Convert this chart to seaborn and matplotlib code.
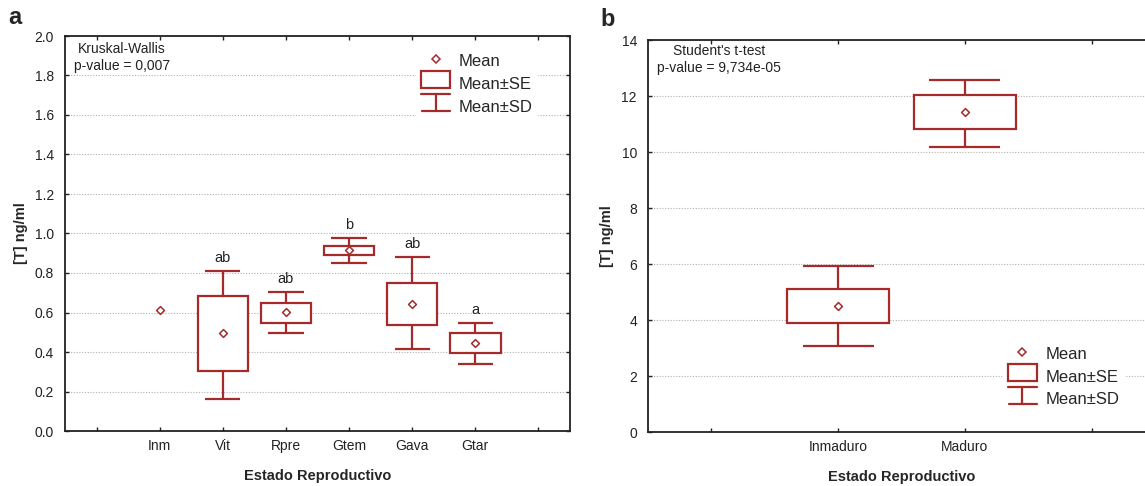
import seaborn as sns
import matplotlib.pyplot as plt
import numpy as np
import pandas as pd
from matplotlib.legend_handler import HandlerBase
from matplotlib.lines import Line2D
from matplotlib.patches import Rectangle

# panel a: estados reproductivos
estados_a = ['Inm', 'Vit', 'Rpre', 'Gtem', 'Gava', 'Gtar']
media_a = [0.615, 0.495, 0.603, 0.917, 0.645, 0.445]
se_lo_a = [np.nan, 0.305, 0.546, 0.893, 0.538, 0.396]
se_hi_a = [np.nan, 0.683, 0.646, 0.935, 0.748, 0.497]
sd_lo_a = [np.nan, 0.162, 0.495, 0.853, 0.413, 0.340]
sd_hi_a = [np.nan, 0.812, 0.705, 0.978, 0.880, 0.547]
letras_a = ['', 'ab', 'ab', 'b', 'ab', 'a']

# panel b
estados_b = ['Inmaduro', 'Maduro']
media_b = [4.50, 11.44]
se_lo_b = [3.88, 10.83]
se_hi_b = [5.12, 12.02]
sd_lo_b = [3.08, 10.19]
sd_hi_b = [5.92, 12.58]

rojo = '#a52a2a'

sns.set_style('ticks')
plt.rcParams['font.family'] = ['Liberation Sans', 'DejaVu Sans']


class HandlerSD(HandlerBase):
    # dibuja el simbolo de bigote (Mean±SD) en la leyenda
    def create_artists(self, legend, orig_handle, xd, yd, w, h, fontsize, trans):
        cx = xd + w / 2
        arriba, abajo = yd + 1.05 * h, yd - 0.1 * h
        l1 = Line2D([xd, xd + w], [arriba, arriba], color=rojo, lw=1.6, transform=trans)
        l2 = Line2D([cx, cx], [arriba, abajo], color=rojo, lw=1.6, transform=trans)
        l3 = Line2D([xd + 0.05 * w, xd + w], [abajo, abajo], color=rojo, lw=1.6, transform=trans)
        return [l1, l2, l3]


class HandlerSE(HandlerBase):
    def create_artists(self, legend, orig_handle, xd, yd, w, h, fontsize, trans):
        r = Rectangle((xd, yd - 0.05 * h), w, 1.1 * h, facecolor='white', edgecolor=rojo, lw=1.6, transform=trans)
        return [r]


def panel(ax, cats, media, se_lo, se_hi, sd_lo, sd_hi):
    x = np.arange(len(cats))
    se_lo = np.array(se_lo); se_hi = np.array(se_hi)
    sd_lo = np.array(sd_lo); sd_hi = np.array(sd_hi)
    # bigotes SD
    ax.vlines(x, sd_lo, se_lo, color=rojo, lw=1.6, zorder=3)
    ax.vlines(x, se_hi, sd_hi, color=rojo, lw=1.6, zorder=3)
    ax.hlines(sd_lo, x - 0.28, x + 0.28, color=rojo, lw=1.6, zorder=3)
    ax.hlines(sd_hi, x - 0.28, x + 0.28, color=rojo, lw=1.6, zorder=3)
    # caja SE
    ax.bar(x, se_hi - se_lo, bottom=se_lo, width=0.8, facecolor='white',
           edgecolor=rojo, lw=1.6, zorder=3)
    df = pd.DataFrame({'x': x, 'media': media})
    sns.scatterplot(data=df, x='x', y='media', marker='D', s=16, facecolor='white',
                    edgecolor=rojo, linewidth=1.1, zorder=4, ax=ax)
    ax.set_xticks(np.arange(-1, len(cats) + 1))
    ax.set_xticklabels([''] + cats + [''])
    ax.set_xlim(-1.5, len(cats) + 0.5)
    ax.grid(axis='y', linestyle=(0, (1, 1.5)), color='#b0b0b0', lw=0.8)
    ax.set_axisbelow(True)
    ax.tick_params(direction='in', top=True, right=True, length=3, width=1,
                   labelsize=10, colors='#222222', pad=8)
    ax.tick_params(axis='x', pad=6)
    for s in ax.spines.values():
        s.set_linewidth(1.3)
        s.set_color('#222222')
    ax.set_xlabel('Estado Reproductivo', fontsize=10.5, fontweight='bold', labelpad=11)
    ax.set_ylabel('[T] ng/ml', fontsize=10.5, fontweight='bold', labelpad=5)


def leyenda(ax, loc, anchor):
    h = [Line2D([], [], marker='D', ls='', markersize=4, mfc='white', mec=rojo, mew=1.1),
         Rectangle((0, 0), 1, 1), Line2D([], [])]
    leg = ax.legend(h, ['Mean', 'Mean±SE', 'Mean±SD'], loc=loc, bbox_to_anchor=anchor,
                    bbox_transform=ax.transAxes,
                    handler_map={Rectangle: HandlerSE(), h[2]: HandlerSD()},
                    frameon=True, fontsize=12, handlelength=1.75, handleheight=1.0,
                    labelspacing=0.4, borderpad=0.3, handletextpad=0.5,
                    borderaxespad=0)
    leg.get_frame().set_edgecolor('white')
    leg.get_frame().set_alpha(1)
    leg.set_zorder(5)


fig = plt.figure(figsize=(11.45, 4.86), dpi=100)
ax1 = fig.add_axes([65 / 1145, 1 - 431 / 486, (570 - 65) / 1145, (431 - 36) / 486])
ax2 = fig.add_axes([648 / 1145, 1 - 432 / 486, (1155 - 648) / 1145, (432 - 40) / 486])

panel(ax1, estados_a, media_a, se_lo_a, se_hi_a, sd_lo_a, sd_hi_a)
ax1.set_ylim(0, 2.0)
ax1.set_yticks(np.arange(0, 2.01, 0.2))
ax1.yaxis.set_major_formatter(plt.FormatStrFormatter('%.1f'))
for i, t in enumerate(letras_a):
    if t:
        ax1.text(i, sd_hi_a[i] + 0.03, t, ha='center', va='bottom', fontsize=10.5, color='#222222')
ax1.text(0.113, 0.985, 'Kruskal-Wallis\np-value = 0,007', transform=ax1.transAxes,
         ha='center', va='top', multialignment='center', fontsize=10, color='#222222',
         linespacing=1.25)
leyenda(ax1, 'upper left', (0.695, 0.97))

panel(ax2, estados_b, media_b, se_lo_b, se_hi_b, sd_lo_b, sd_hi_b)
ax2.set_ylim(0, 14)
ax2.set_yticks(np.arange(0, 15, 2))
ax2.text(0.14, 0.99, "Student's t-test\np-value = 9,734e-05", transform=ax2.transAxes,
         ha='center', va='top', multialignment='center', fontsize=10, color='#222222',
         linespacing=1.25)
leyenda(ax2, 'lower left', (0.70, 0.05))

fig.text(15 / 1145, 1 - 18 / 486, 'a', fontsize=17, fontweight='bold', ha='center', va='center')
fig.text(608 / 1145, 1 - 20 / 486, 'b', fontsize=17, fontweight='bold', ha='center', va='center')

fig.savefig('out.png', dpi=100)
